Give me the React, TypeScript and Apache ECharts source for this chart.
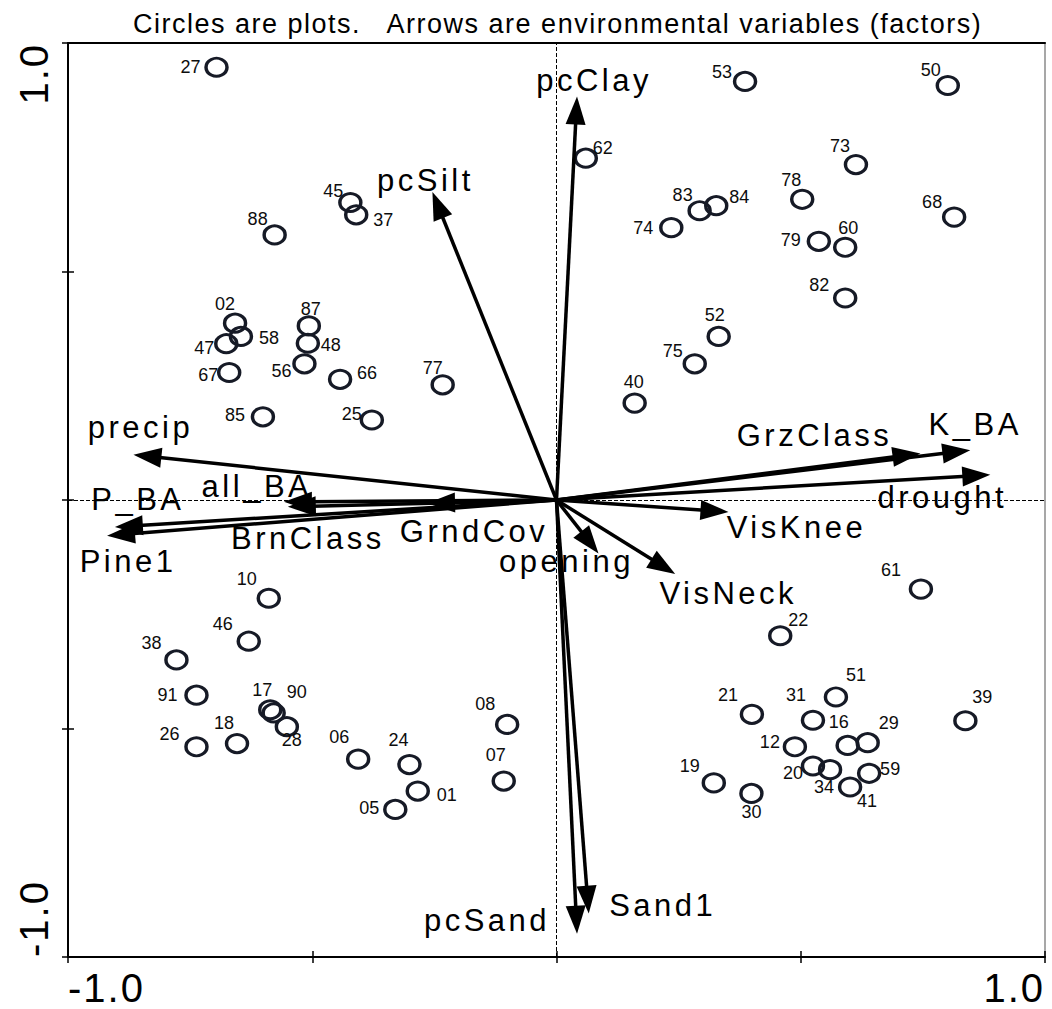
import React, { useEffect, useRef } from 'react';
import * as echarts from 'echarts';

const titleText = 'Circles are plots.   Arrows are environmental variables (factors)';

// Plot scores (site ids and their two ordination coordinates)
const pointIds = ['27','45','37','88','53','50','62','73','78','83','84','74','68','79','60','82','02','58','47','87','48','56','67','66','77','85','25','52','75','40','61','22','51','21','31','39','16','29','12','20','34','59','41','19','30','10','46','38','91','17','90','28','18','26','06','24','01','05','08','07'];
const pointX = [-0.696,-0.422,-0.410,-0.577,0.386,0.801,0.060,0.613,0.503,0.293,0.327,0.235,0.814,0.537,0.591,0.591,-0.658,-0.646,-0.676,-0.507,-0.509,-0.516,-0.670,-0.443,-0.233,-0.601,-0.378,0.332,0.283,0.160,0.746,0.458,0.572,0.400,0.525,0.837,0.596,0.637,0.488,0.525,0.560,0.640,0.601,0.322,0.399,-0.589,-0.630,-0.778,-0.737,-0.586,-0.579,-0.552,-0.654,-0.737,-0.406,-0.301,-0.284,-0.330,-0.101,-0.108];
const pointY = [0.947,0.651,0.624,0.580,0.916,0.907,0.748,0.734,0.658,0.633,0.644,0.596,0.619,0.566,0.553,0.442,0.387,0.358,0.342,0.381,0.343,0.298,0.279,0.264,0.252,0.182,0.175,0.358,0.298,0.212,-0.195,-0.297,-0.431,-0.469,-0.482,-0.483,-0.537,-0.531,-0.540,-0.582,-0.590,-0.598,-0.628,-0.619,-0.642,-0.215,-0.309,-0.350,-0.427,-0.459,-0.466,-0.496,-0.533,-0.540,-0.567,-0.579,-0.637,-0.677,-0.491,-0.615];

// Environmental variables (arrow tips)
const arrowNames = ['pcClay','pcSilt','precip','P_BA','Pine1','all_BA','BrnClass','GrndCov','opening','VisKnee','VisNeck','GrzClass','K_BA','drought','Sand1','pcSand'];
const arrowX = [0.042,-0.254,-0.866,-0.904,-0.920,-0.558,-0.550,-0.265,0.086,0.352,0.243,0.745,0.847,0.888,0.066,0.042];
const arrowY = [0.883,0.674,0.099,-0.059,-0.078,-0.004,-0.015,-0.007,-0.117,-0.026,-0.162,0.102,0.109,0.055,-0.905,-0.949];

// Tick labels
const tickLabelMap: Record<string, string> = { '-1': '-1.0', '1': '1.0' };

// Label placement (pixel offsets from the mark)
const pointLabelOffsets: [number, number][] = [
  [-26,0],[-17,-11],[27,5],[-17,-16],[-23,-9],[-17,-16],[17,-10],[-16,-19],[-11,-19],[-17,-16],
  [23,-9],[-28,0],[-22,-15],[-28,-1],[3,-19],[-26,-13],[-10,-19],[28,2],[-22,4],[2,-17],
  [23,2],[-23,7],[-21,3],[27,-6],[-10,-17],[-28,-2],[-20,-6],[-4,-21],[-22,-13],[-1,-21],
  [-30,-19],[18,-16],[20,-22],[-24,-19],[-17,-25],[17,-24],[-9,-23],[21,-20],[-25,-5],[-20,7],
  [-6,17],[21,-4],[17,14],[-24,-17],[0,19],[-22,-19],[-26,-17],[-25,-17],[-29,0],[-8,-20],
  [23,-21],[5,13],[-13,-21],[-27,-13],[-19,-22],[-11,-25],[29,4],[-26,-1],[-22,-20],[-8,-26]
];
const arrowLabelOffsets: [number, number][] = [
  [17,-16],[-7,-11],[7,-27],[23,-27],[21,26],[-27,-15],[20,32],[47,28],[-32,8],[68,16],[53,19],[-106,-18],[5,-26],[-48,23],[74,-8],[-90,-13]
];

const FONT = 'Liberation Sans';
const css = `
body { margin: 0; }
.ordi svg text { white-space: pre; }
.ordi svg text[style*="31px"] { letter-spacing: 3.5px; }
.ordi svg text[style*="27px"] { letter-spacing: 1.5px; }
.ordi svg text[style*="40px"] { letter-spacing: 2px; }
`;

export default function App() {
  const ref = useRef<HTMLDivElement>(null);
  useEffect(() => {
    const chart = echarts.init(ref.current as HTMLDivElement, null, { renderer: 'svg' });
    const fmt = (v: number) => tickLabelMap[String(v)] ?? '';
    const baseAxis = { type: 'value', min: -1, max: 1, interval: 0.5, splitLine: { show: false } };

    const option: any = {
      animation: false,
      backgroundColor: '#fff',
      title: {
        text: titleText,
        left: 133,
        top: 10,
        padding: 0,
        textStyle: { fontSize: 27, fontWeight: 'normal', color: '#000', fontFamily: FONT },
      },
      grid: { left: 68, top: 43, width: 977, height: 914, show: false },
      xAxis: [
        {
          ...baseAxis,
          position: 'bottom',
          axisLine: { show: true, onZero: false, lineStyle: { color: '#000', width: 2 } },
          axisTick: { show: true, length: 6, lineStyle: { color: '#000', width: 1.5 } },
          axisLabel: {
            formatter: fmt, fontSize: 40, color: '#000', fontFamily: FONT, margin: 11,
            alignMinLabel: 'left', alignMaxLabel: 'right', showMinLabel: true, showMaxLabel: true,
          },
        },
        {
          ...baseAxis,
          position: 'bottom',
          axisLine: { show: false, onZero: false },
          axisTick: { show: true, inside: true, length: 6, lineStyle: { color: '#000', width: 1.5 } },
          axisLabel: { show: false },
        },
        {
          ...baseAxis,
          position: 'top',
          axisLine: { show: true, onZero: false, lineStyle: { color: '#000', width: 2 } },
          axisTick: { show: false },
          axisLabel: { show: false },
        },
      ],
      yAxis: [
        {
          ...baseAxis,
          position: 'left',
          axisLine: { show: true, onZero: false, lineStyle: { color: '#000', width: 2 } },
          axisTick: { show: true, length: 6, lineStyle: { color: '#000', width: 1.5 } },
          axisLabel: {
            formatter: fmt, fontSize: 40, color: '#000', fontFamily: FONT, margin: 14, rotate: 90,
            alignMinLabel: 'left', alignMaxLabel: 'right', showMinLabel: true, showMaxLabel: true,
          },
        },
        {
          ...baseAxis,
          position: 'left',
          axisLine: { show: false, onZero: false },
          axisTick: { show: true, inside: true, length: 6, lineStyle: { color: '#000', width: 1.5 } },
          axisLabel: { show: false },
        },
        {
          ...baseAxis,
          position: 'right',
          axisLine: { show: true, onZero: false, lineStyle: { color: '#8a8a8a', width: 1.5 } },
          axisTick: { show: false },
          axisLabel: { show: false },
        },
      ],
      series: [
        {
          type: 'scatter',
          xAxisIndex: 0,
          yAxisIndex: 0,
          symbol: 'circle',
          symbolSize: [21, 18],
          itemStyle: { color: 'rgba(0,0,0,0)', borderColor: '#161a26', borderWidth: 3.2, opacity: 1 },
          emphasis: { disabled: true },
          label: {
            show: true,
            position: 'inside',
            formatter: '{b}',
            fontSize: 18,
            color: '#0d0d0d',
            fontFamily: FONT,
          },
          data: pointIds.map((id, i) => ({
            name: id,
            value: [pointX[i], pointY[i]],
            label: { offset: pointLabelOffsets[i] },
          })),
          markLine: {
            silent: true,
            symbol: 'none',
            label: { show: false },
            lineStyle: { type: [4, 2], color: '#000', width: 1 },
            data: [{ xAxis: 0 }, { yAxis: 0 }],
          },
          z: 3,
        },
        {
          type: 'custom',
          xAxisIndex: 0,
          yAxisIndex: 0,
          clip: false,
          z: 5,
          encode: { x: 0, y: 1 },
          data: arrowX.map((x, i) => [x, arrowY[i]]),
          renderItem: (params: any, api: any) => {
            const i = params.dataIndex;
            const o = api.coord([0, 0]);
            const t = api.coord([api.value(0), api.value(1)]);
            const dx = t[0] - o[0];
            const dy = t[1] - o[1];
            const len = Math.sqrt(dx * dx + dy * dy) || 1;
            const ux = dx / len;
            const uy = dy / len;
            const headLen = 28;
            const headHalf = 10;
            const bx = t[0] - ux * headLen;
            const by = t[1] - uy * headLen;
            const px = -uy;
            const py = ux;
            const off = arrowLabelOffsets[i];
            return {
              type: 'group',
              children: [
                {
                  type: 'line',
                  shape: { x1: o[0], y1: o[1], x2: bx + ux * 4, y2: by + uy * 4 },
                  style: { stroke: '#000', lineWidth: 3.5 },
                },
                {
                  type: 'polygon',
                  shape: { points: [[t[0], t[1]], [bx + px * headHalf, by + py * headHalf], [bx - px * headHalf, by - py * headHalf]] },
                  style: { fill: '#000' },
                },
                {
                  type: 'text',
                  x: t[0] + off[0],
                  y: t[1] + off[1],
                  style: {
                    text: arrowNames[i],
                    fontSize: 31,
                    fontFamily: FONT,
                    fill: '#000',
                    align: 'center',
                    verticalAlign: 'middle',
                  },
                },
              ],
            };
          },
        },
      ],
    };
    chart.setOption(option);
    return () => chart.dispose();
  }, []);

  return (
    <div className="ordi">
      <style>{css}</style>
      <div ref={ref} style={{ width: 1052, height: 1009 }} />
    </div>
  );
}
